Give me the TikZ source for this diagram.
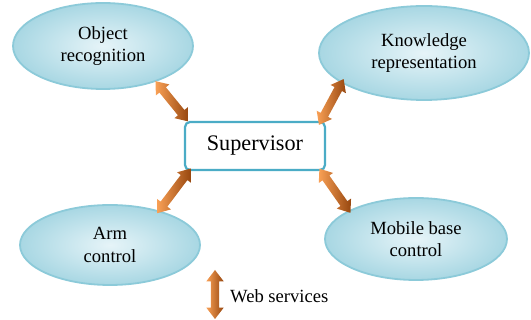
\documentclass[tikz,border=0pt]{standalone}
\usepackage{fontspec}
\setmainfont{Liberation Serif}
\newfontfamily\tnr{Liberation Serif}
\usetikzlibrary{shapes.arrows,shapes.geometric}
\definecolor{elbord}{HTML}{8CCAD9}
\definecolor{elin}{HTML}{E6F4F8}
\definecolor{elout}{HTML}{A8D7E3}
\definecolor{boxbord}{HTML}{4BACC6}
\definecolor{arlight}{HTML}{F9A055}
\definecolor{ardark}{HTML}{97470F}
\begin{document}
\begin{tikzpicture}[x=1pt,y=-1pt,
  modnode/.style={ellipse, draw=elbord, line width=1.8pt, inner color=elin, outer color=elout,
    font=\tnr\fontsize{18.6}{22.5}\selectfont, align=center, inner sep=0pt},
  supnode/.style={draw=boxbord, line width=2.2pt, rounded corners=5pt, fill=white,
    minimum width=140pt, minimum height=48pt, font=\tnr\fontsize{22.2}{26}\selectfont},
  dblarrow/.style={double arrow, inner xsep=0pt, inner ysep=4pt, double arrow head extend=4.5pt,
    double arrow tip angle=75, draw=none,
    left color=arlight, right color=ardark},
  onpath/.style={dblarrow, sloped, allow upside down, midway}
]
\useasboundingbox (0,0) rectangle (531,320);
\node[modnode, minimum width=180pt, minimum height=86pt] (obj) at (103,46) {Object\\recognition};
\node[modnode, minimum width=210pt, minimum height=94pt] (kn) at (424,53) {Knowledge\\representation};
\node[modnode, minimum width=180pt, minimum height=80pt] (arm) at (110,245) {Arm\\control};
\node[modnode, minimum width=182pt, minimum height=82pt] (mob) at (416,239) {Mobile base\\control};
\node[supnode] (sup) at (255,146) {Supervisor};

\path (obj.-34) -- node[onpath, minimum height=52pt] (a1) {} ([xshift=4pt]sup.north west);
\path (kn.200) -- node[onpath, minimum height=52pt] (a2) {} ([xshift=-5pt]sup.north east);
\path ([xshift=5pt]sup.south west) -- node[onpath, minimum height=56pt] (a3) {} (arm.35);
\path ([xshift=-5pt]sup.south east) -- node[onpath, minimum height=54pt] (a4) {} (mob.157);

\node[dblarrow, rotate=-90, minimum height=49pt] (web) at (215,294.5) {};
\node[anchor=west, font=\tnr\fontsize{18.6}{22.5}\selectfont, inner sep=0pt] (webl) at (230,296) {Web services};
\end{tikzpicture}
\end{document}
